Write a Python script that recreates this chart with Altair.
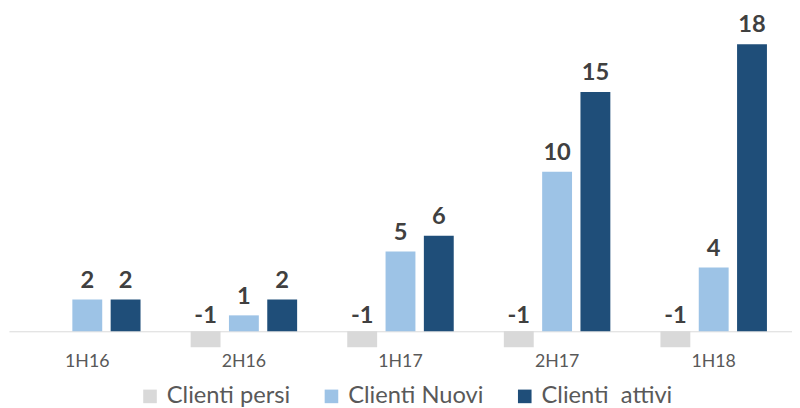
import altair as alt
import pandas as pd

periods = ["1H16", "2H16", "1H17", "2H17", "1H18"]
series = ["Clienti persi", "Clienti Nuovi", "Clienti\u00a0 attivi"]
persi = [0, -1, -1, -1, -1]
nuovi = [2, 1, 5, 10, 4]
attivi = [2, 2, 6, 15, 18]
colors = ["#D9D9D9", "#9DC3E6", "#1F4E79"]

rows = []
for i, p in enumerate(periods):
    for s, vals in zip(series, [persi, nuovi, attivi]):
        rows.append({"period": p, "series": s, "value": vals[i], "zero": 0,
                     "label": str(vals[i])})
df = pd.DataFrame(rows)

yscale = alt.Scale(domain=[-1.175, 20.1], nice=False, zero=False)
x = alt.X(
    "period:N",
    scale=alt.Scale(domain=periods, paddingInner=0.32, paddingOuter=0.16),
    axis=alt.Axis(
        title=None, labelAngle=0, domain=False, ticks=False,
        labelFont="Lato", labelFontSize=18, labelColor="#595959", labelPadding=3,
    ),
)
xoff = alt.XOffset("series:N", scale=alt.Scale(domain=series, paddingInner=0.22, paddingOuter=0))

base = alt.Chart(df)

bars = base.mark_bar().encode(
    x=x,
    xOffset=xoff,
    y=alt.Y(
        "value:Q", scale=yscale,
        axis=alt.Axis(
            values=[0], grid=True, gridColor="#D9D9D9", gridWidth=1,
            labels=False, ticks=False, domain=False, title=None,
        ),
    ),
    color=alt.Color(
        "series:N",
        scale=alt.Scale(domain=series, range=colors),
        legend=alt.Legend(
            orient="none", legendX=131, legendY=379, direction="horizontal",
            padding=0,
            title=None, labelFont="Lato", labelFontSize=24, labelColor="#595959",
            symbolType="square", symbolSize=190, symbolStrokeWidth=0,
            columnPadding=29, labelOffset=5,
        ),
    ),
)

pos_labels = base.transform_filter("datum.value > 0").mark_text(
    dy=-12, baseline="alphabetic", font="Lato", fontSize=24, fontWeight="bold", color="#404040"
).encode(
    x=x, xOffset=xoff, y=alt.Y("value:Q"), text=alt.Text("label:N")
)

neg_labels = base.transform_filter("datum.value < 0").mark_text(
    dy=-8, baseline="alphabetic", font="Lato", fontSize=24, fontWeight="bold", color="#404040"
).encode(
    x=x, xOffset=xoff, y=alt.Y("zero:Q"), text=alt.Text("label:N")
)

chart = alt.layer(bars, pos_labels, neg_labels).properties(
    width=794, height=344,
    padding={"left": 1, "top": 0, "right": 0, "bottom": 60},
    autosize=alt.AutoSizeParams(type="none"),
).configure_view(stroke=None)

chart.save("out.html", embed_options={"renderer": "svg", "actions": False})
